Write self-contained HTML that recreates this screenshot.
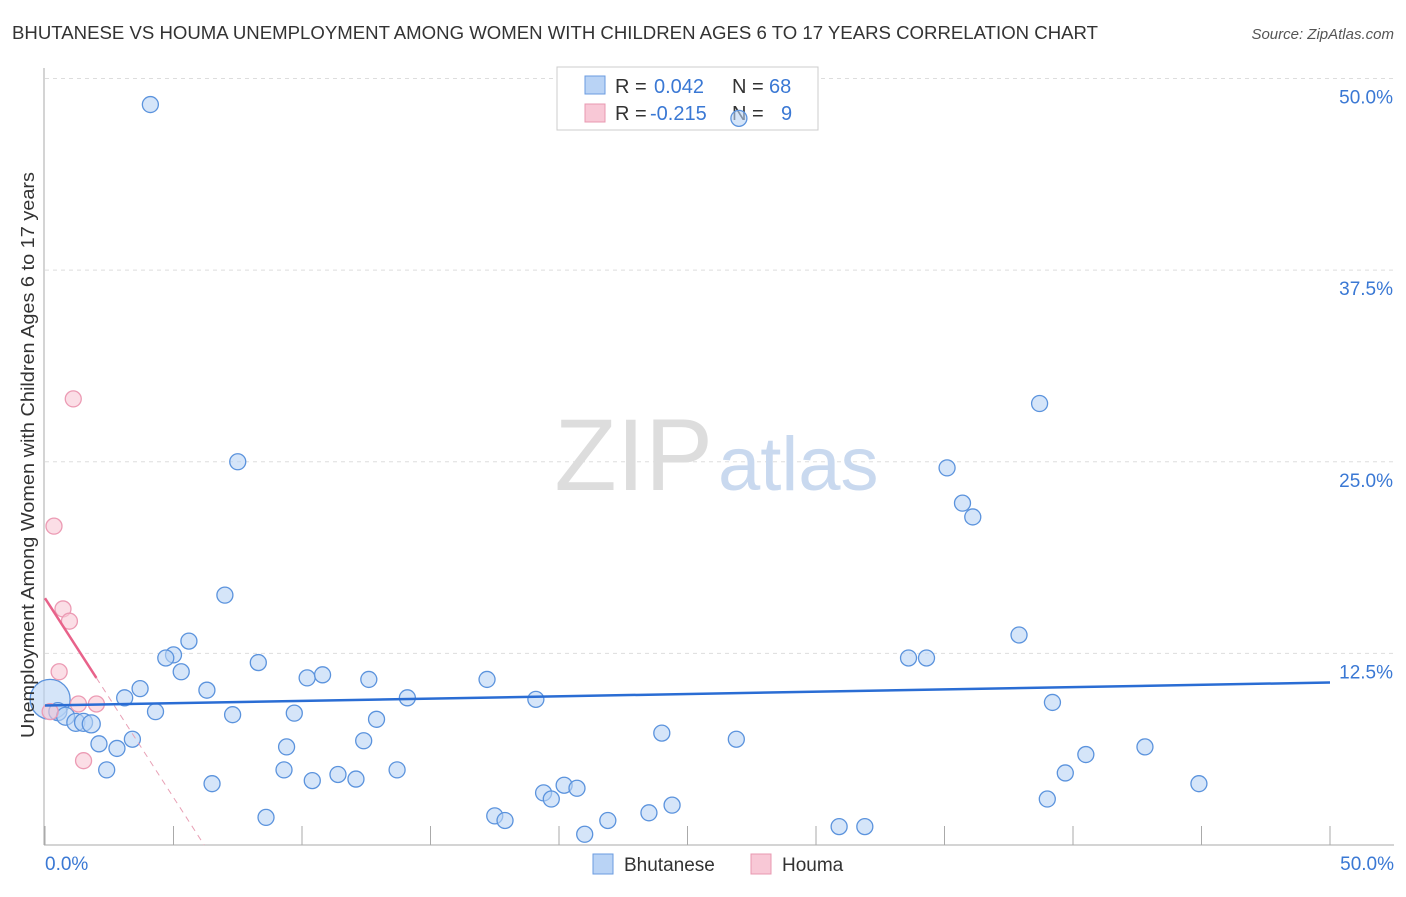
<!DOCTYPE html>
<html><head><meta charset="utf-8"><style>
body{margin:0;background:#fff;font-family:"Liberation Sans",sans-serif;}
svg text{font-family:"Liberation Sans",sans-serif;}
</style></head><body>
<svg width="1406" height="892" xmlns="http://www.w3.org/2000/svg">
<text x="12" y="39" font-size="18" fill="#333" textLength="1086" lengthAdjust="spacingAndGlyphs">BHUTANESE VS HOUMA UNEMPLOYMENT AMONG WOMEN WITH CHILDREN AGES 6 TO 17 YEARS CORRELATION CHART</text>
<text x="1394" y="39" font-size="15" fill="#555" text-anchor="end" font-style="italic">Source: ZipAtlas.com</text>
<g id="grid"></g>
<text x="713" y="490" font-size="102" fill="#ddd" text-anchor="end" font-family="Liberation Serif">ZIP</text>
<text x="718" y="490" font-size="76" fill="#c9d9ef">atlas</text>
<line x1="44" y1="68" x2="44" y2="845" stroke="#aaa"/>
<line x1="44" y1="845" x2="1394" y2="845" stroke="#aaa"/>
<g id="ticks"></g>
<g>
<rect x="557" y="67" width="261" height="63" fill="#fff" stroke="#ccc"/>
<rect x="585" y="76" width="20" height="18" fill="#b9d3f5" stroke="#6a9be0"/>
<rect x="585" y="104" width="20" height="18" fill="#f8c8d6" stroke="#e898b0"/>
<text x="615" y="93" font-size="20" fill="#333">R =</text>
<text x="654" y="93" font-size="20" fill="#3a78d4">0.042</text>
<text x="732" y="93" font-size="20" fill="#333">N =</text>
<text x="769" y="93" font-size="20" fill="#3a78d4">68</text>
<text x="615" y="120" font-size="20" fill="#333">R =</text>
<text x="650" y="120" font-size="20" fill="#3a78d4">-0.215</text>
<text x="732" y="120" font-size="20" fill="#333">N =</text>
<text x="781" y="120" font-size="20" fill="#3a78d4">9</text>
</g>
<g id="pts"></g>
<g id="lines"></g>
<text transform="translate(34,455) rotate(-90)" font-size="18" fill="#333" text-anchor="middle" textLength="566" lengthAdjust="spacingAndGlyphs">Unemployment Among Women with Children Ages 6 to 17 years</text>
<text x="45" y="870" font-size="19" fill="#3a78d4">0.0%</text>
<text x="1394" y="870" font-size="19" fill="#3a78d4" text-anchor="end">50.0%</text>
<g>
<rect x="593" y="854" width="20" height="20" fill="#b9d3f5" stroke="#6a9be0"/>
<text x="624" y="871" font-size="19" fill="#333">Bhutanese</text>
<rect x="751" y="854" width="20" height="20" fill="#f8c8d6" stroke="#e898b0"/>
<text x="782" y="871" font-size="19" fill="#333">Houma</text>
</g>
</svg>
<script>
const yTicks=[12.5,25,37.5,50];
const xTicks=[0,5,10,15,20,25,30,35,40,45,50];
const blueX=[4.1,27.0,7.5,38.7,35.1,35.7,36.1,7.0,37.9,5.6,5.0,4.7,5.3,8.3,33.6,34.3,10.2,10.8,12.6,17.2,3.7,3.1,6.3,14.1,19.1,39.2,4.3,7.3,9.7,12.9,0.2,0.5,0.8,1.2,1.5,1.8,3.4,2.1,2.8,9.4,12.4,24.0,26.9,42.8,40.5,2.4,9.3,13.7,11.4,39.7,10.4,12.1,6.5,20.2,20.7,19.4,19.7,44.9,39.0,17.5,17.9,24.4,23.5,21.9,8.6,21.0,30.9,31.9];
const blueY=[48.3,47.4,25.0,28.8,24.6,22.3,21.4,16.3,13.7,13.3,12.4,12.2,11.3,11.9,12.2,12.2,10.9,11.1,10.8,10.8,10.2,9.6,10.1,9.6,9.5,9.3,8.7,8.5,8.6,8.2,9.5,8.7,8.4,8.0,8.0,7.9,6.9,6.6,6.3,6.4,6.8,7.3,6.9,6.4,5.9,4.9,4.9,4.9,4.6,4.7,4.2,4.3,4.0,3.9,3.7,3.4,3.0,4.0,3.0,1.9,1.6,2.6,2.1,1.6,1.8,0.7,1.2,1.2];
const blueR=[8,8,8,8,8,8,8,8,8,8,8,8,8,8,8,8,8,8,8,8,8,8,8,8,8,8,8,8,8,8,20,9,9,9,9,9,8,8,8,8,8,8,8,8,8,8,8,8,8,8,8,8,8,8,8,8,8,8,8,8,8,8,8,8,8,8,8,8];
const pinkX=[1.1,0.35,0.7,0.95,0.55,1.3,2.0,1.5,0.2];
const pinkY=[29.1,20.8,15.4,14.6,11.3,9.2,9.2,5.5,8.7];
const blueTrend=[9.1,10.6];
const pinkTrend=[16.1,-2.6];
const X=v=>45+v*25.7, Y=v=>845-v*15.33;
const NS='http://www.w3.org/2000/svg';
function mk(t,a,p){const e=document.createElementNS(NS,t);for(const k in a)e.setAttribute(k,a[k]);document.getElementById(p).appendChild(e);return e;}
yTicks.forEach(v=>{
 const l=mk('line',{x1:45,x2:1394,y1:Y(v),y2:Y(v),stroke:'#ddd','stroke-dasharray':'4,4'},'grid');
 
 
 const t=mk('text',{x:1393,y:Y(v)+25,'font-size':19,fill:'#3a78d4','text-anchor':'end'},'grid');
 t.textContent=v.toFixed(1)+'%';
 
 
});
xTicks.forEach(v=>{
 const l=mk('line',{x1:X(v),x2:X(v),y1:826,y2:845,stroke:'#aaa'},'ticks');
 
 
});
blueX.forEach((v,i)=>{
 const c=mk('circle',{cx:X(v),cy:Y(blueY[i]),r:blueR[i],fill:'#b9d3f5','fill-opacity':0.6,stroke:'#5b93dd','stroke-width':1.3},'pts');
 
 
});
pinkX.forEach((v,i)=>{
 const c=mk('circle',{cx:X(v),cy:Y(pinkY[i]),r:8,fill:'#f8c8d6','fill-opacity':0.6,stroke:'#ec9bb4','stroke-width':1.3},'pts');
 
 
});
const bl=mk('line',{x1:X(0),y1:Y(blueTrend[0]),x2:X(50),y2:Y(blueTrend[1]),stroke:'#2a6dd4','stroke-width':2.5},'lines');


const pf=x=>pinkTrend[0]+pinkTrend[1]*x;
const ps=mk('line',{x1:X(0),y1:Y(pf(0)),x2:X(2),y2:Y(pf(2)),stroke:'#e8628a','stroke-width':2.5},'lines');


const x0=-pinkTrend[0]/pinkTrend[1];
const pd=mk('line',{x1:X(2),y1:Y(pf(2)),x2:X(x0),y2:Y(0),stroke:'#e8a0b5','stroke-width':1,'stroke-dasharray':'6,5'},'lines');


</script>
</body></html>
